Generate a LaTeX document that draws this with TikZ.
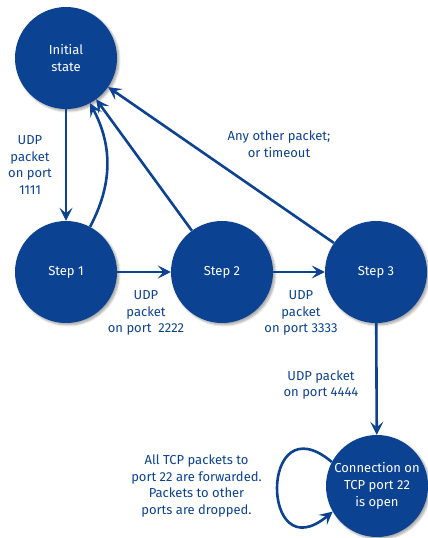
\documentclass[tikz,border=0pt]{standalone}
\usepackage{fontspec}
\setmainfont{Fira Sans}
\usetikzlibrary{arrows.meta,shadows.blur}
\definecolor{dblue}{RGB}{12,66,146}
\begin{document}
\begin{tikzpicture}[x=1pt,y=-1pt,
  state/.style={circle,fill=dblue,minimum size=102pt,inner sep=0pt,text=white,align=center,
    font=\fontsize{13}{16.7}\selectfont,
    blur shadow={shadow xshift=2pt,shadow yshift=-2pt,shadow opacity=35,shadow blur steps=6}},
  lbl/.style={text=dblue,align=center,font=\fontsize{13}{16.7}\selectfont,inner sep=0pt},
  conn/.style={draw=dblue,line width=2.6pt,-{Stealth[length=13pt,width=13pt,inset=5.5pt]}}]
\useasboundingbox (0,0) rectangle (428,538);
\node[state] (init) at (66,58) {Initial\\state};
\node[state] (s1) at (66,272) {Step 1};
\node[state] (s2) at (222,272) {Step 2};
\node[state] (s3) at (376,272) {Step 3};
\node[state] (fin) at (377,486) {Connection on\\TCP port 22\\is open};
\draw[conn] (init) -- (s1);
\draw[conn] (s1) to[bend right=28] (init);
\draw[conn] (s2) -- (init);
\draw[conn] (s3) -- (init);
\draw[conn] (s1) -- (s2);
\draw[conn] (s2) -- (s3);
\draw[conn] (s3) -- (fin);
\draw[conn] (fin.152) .. controls +(220:95) and +(140:95) .. (fin.210);
\node[lbl] (l1) at (30,165) {UDP\\packet\\on port\\1111};
\node[lbl] (l2) at (279,144) {Any other packet;\\or timeout};
\node[lbl] (l3) at (146,313) {UDP\\packet\\on port~~2222};
\node[lbl] (l4) at (301,313) {UDP\\packet\\on port 3333};
\node[lbl] (l5) at (321,385) {UDP packet\\on port 4444};
\node[lbl] (l6) at (196.5,486) {All TCP packets to\\port 22 are forwarded.\\Packets to other\\ports are dropped.};
\end{tikzpicture}
\end{document}
